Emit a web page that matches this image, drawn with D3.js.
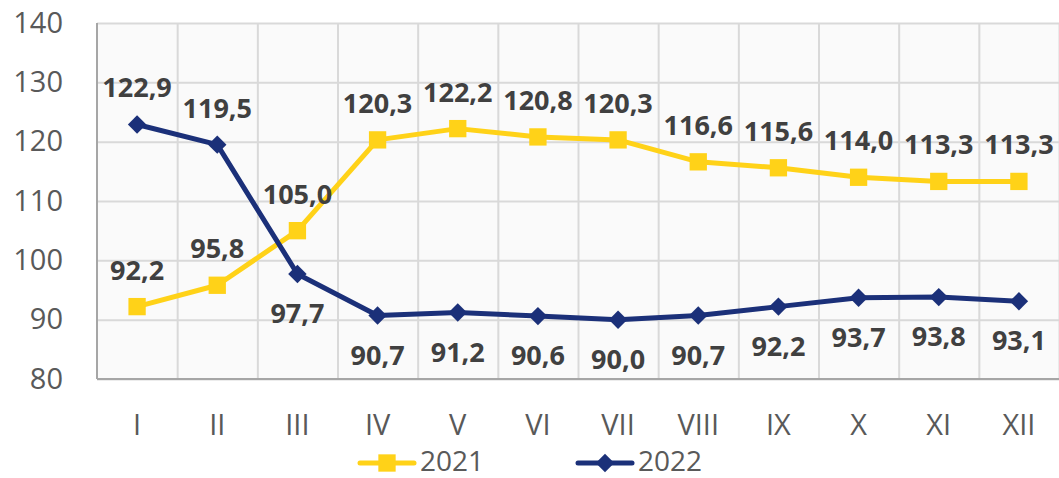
<!DOCTYPE html>
<html>
<head>
<meta charset="utf-8">
<title>2021 / 2022</title>
<script src="https://cdn.jsdelivr.net/npm/d3@7"></script>
<style>
  body { margin: 0; background: #fff; }
  .axis text { font-family: "Open Sans", sans-serif; font-size: 29px; fill: #595959; }
  .axis path, .axis line { display: none; }
  .grid line { stroke: #d9d9d9; stroke-width: 2; }
  .grid path { display: none; }
  .lbl { font-family: "Open Sans", sans-serif; font-size: 27px; font-weight: bold; fill: #404040; text-anchor: middle; }
  .legend text { font-family: "Open Sans", sans-serif; font-size: 28px; fill: #595959; }
</style>
</head>
<body>
<script>
// months
var months = ["I", "II", "III", "IV", "V", "VI", "VII", "VIII", "IX", "X", "XI", "XII"];
var y2021 = [92.2, 95.8, 105.0, 120.3, 122.2, 120.8, 120.3, 116.6, 115.6, 114.0, 113.3, 113.3];
var y2022 = [122.9, 119.5, 97.7, 90.7, 91.2, 90.6, 90.0, 90.7, 92.2, 93.7, 93.8, 93.1];
var yTicks = [80, 90, 100, 110, 120, 130, 140];

var w = 1059, h = 478;
var pLeft = 97, pRight = 1059, pTop = 23, pBottom = 379;

var svg = d3.select("body").append("svg")
    .attr("width", w)
    .attr("height", h);

var x = d3.scaleBand().domain(months).range([pLeft, pRight]);
var y = d3.scaleLinear().domain([80, 140]).range([pBottom, pTop]);

// plot background
svg.append("rect")
    .attr("x", pLeft).attr("y", pTop)
    .attr("width", pRight - pLeft).attr("height", pBottom - pTop)
    .attr("fill", "#fafafa");

// horizontal grid
svg.append("g").attr("class", "grid")
    .attr("transform", "translate(" + pLeft + ",0)")
    .call(d3.axisLeft(y).tickValues(yTicks).tickSize(-(pRight - pLeft)).tickFormat(""));

// vertical grid on band edges
var xEdge = d3.scaleLinear().domain([0, months.length]).range([pLeft, pRight]);
svg.append("g").attr("class", "grid")
    .attr("transform", "translate(0," + pBottom + ")")
    .call(d3.axisBottom(xEdge).tickValues(d3.range(1, months.length + 1)).tickSize(-(pBottom - pTop)).tickFormat(""));

// axis lines
svg.append("line").attr("x1", pLeft).attr("x2", pLeft).attr("y1", pTop).attr("y2", pBottom)
    .attr("stroke", "#a6a6a6").attr("stroke-width", 2);
svg.append("line").attr("x1", pLeft).attr("x2", pRight).attr("y1", pBottom).attr("y2", pBottom)
    .attr("stroke", "#a6a6a6").attr("stroke-width", 2);

// axes labels
svg.append("g").attr("class", "axis")
    .attr("transform", "translate(" + (pLeft - 20) + ",0)")
    .call(d3.axisLeft(y).tickValues(yTicks).tickSize(0).tickPadding(14));

svg.append("g").attr("class", "axis")
    .attr("transform", "translate(0," + pBottom + ")")
    .call(d3.axisBottom(x).tickSize(0).tickPadding(35));

var line = d3.line()
    .x(function(d, i) { return x(months[i]) + x.bandwidth() / 2; })
    .y(function(d) { return y(d); });

var series = [
    { name: "2021", values: y2021, color: "#ffd218", rot: 0, size: 300 },
    { name: "2022", values: y2022, color: "#1b3079", rot: 45, size: 170 }
];

series.forEach(function(s) {
    svg.append("path")
        .attr("d", line(s.values))
        .attr("fill", "none")
        .attr("stroke", s.color)
        .attr("stroke-width", 5)
        .attr("stroke-linejoin", "round");
    svg.append("g").selectAll("path")
        .data(s.values)
        .enter().append("path")
        .attr("d", d3.symbol().type(d3.symbolSquare).size(s.size))
        .attr("transform", function(d, i) {
            return "translate(" + (x(months[i]) + x.bandwidth() / 2) + "," + y(d) + ") rotate(" + s.rot + ")";
        })
        .attr("fill", s.color);
});

// data labels: 2021 above; 2022 above when higher than 2021, else below
function fmt(v) { return v.toFixed(1).replace(".", ","); }
series.forEach(function(s, k) {
    svg.append("g").selectAll("text")
        .data(s.values)
        .enter().append("text")
        .attr("class", "lbl")
        .attr("x", function(d, i) { return x(months[i]) + x.bandwidth() / 2; })
        .attr("y", function(d, i) {
            var above = k === 0 || d > y2021[i];
            return y(d) + (above ? -27 : 49);
        })
        .text(fmt);
});

// legend
var lg = svg.append("g").attr("class", "legend");
var items = [{ s: series[0], x: 360 }, { s: series[1], x: 578 }];
items.forEach(function(it) {
    lg.append("line")
        .attr("x1", it.x).attr("x2", it.x + 54)
        .attr("y1", 463).attr("y2", 463)
        .attr("stroke", it.s.color).attr("stroke-width", 5)
        .attr("stroke-linecap", "round");
    lg.append("path")
        .attr("d", d3.symbol().type(d3.symbolSquare).size(it.s.size))
        .attr("transform", "translate(" + (it.x + 27) + ",463) rotate(" + it.s.rot + ")")
        .attr("fill", it.s.color);
    lg.append("text")
        .attr("x", it.x + 60).attr("y", 471)
        .text(it.s.name);
});
</script>
</body>
</html>
